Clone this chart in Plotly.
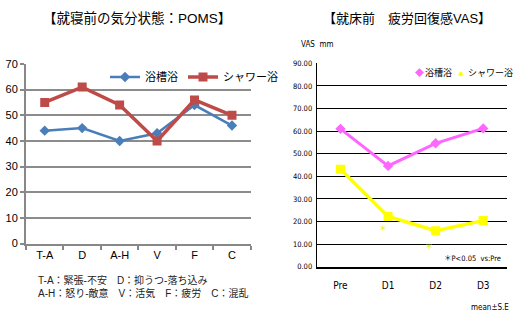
import plotly.graph_objects as go

# ---- Left chart data (POMS) ----
poms_cats = ["T-A", "D", "A-H", "V", "F", "C"]
poms_bath = [44, 45, 40, 43, 54, 46]
poms_shower = [55, 61, 54, 40, 56, 50]
poms_yticks = [0, 10, 20, 30, 40, 50, 60, 70]

# ---- Right chart data (VAS) ----
vas_cats = ["Pre", "D1", "D2", "D3"]
vas_bath = [61, 44.6, 54.6, 61.2]
vas_shower = [43.1, 22.2, 15.9, 20.4]
vas_yticks = [0, 10, 20, 30, 40, 50, 60, 70, 80, 90]
sig_cats = ["D1", "D2"]
sig_vals = [17, 9]
series_names = ["浴槽浴", "シャワー浴"]

JP = "Liberation Sans, Noto Sans CJK JP, sans-serif"
NARROW = "Liberation Sans Narrow, DejaVu Sans Condensed, Liberation Sans, Noto Sans CJK JP, sans-serif"

fig = go.Figure()

fig.add_trace(go.Scatter(
    x=poms_cats, y=poms_bath, name=series_names[0], mode="lines+markers",
    line=dict(color="#4a7ebb", width=2.5),
    marker=dict(symbol="diamond", size=8, color="#4a7ebb"),
    xaxis="x", yaxis="y", legend="legend"))
fig.add_trace(go.Scatter(
    x=poms_cats, y=poms_shower, name=series_names[1], mode="lines+markers",
    line=dict(color="#be4b48", width=3.5),
    marker=dict(symbol="square", size=9, color="#be4b48"),
    xaxis="x", yaxis="y", legend="legend"))

fig.add_trace(go.Scatter(
    x=vas_cats, y=vas_bath, name=series_names[0], mode="lines+markers",
    line=dict(color="#ff66ff", width=3),
    marker=dict(symbol="diamond", size=8, color="#ff66ff"),
    xaxis="x2", yaxis="y2", showlegend=False))
fig.add_trace(go.Scatter(
    x=vas_cats, y=vas_shower, name=series_names[1], mode="lines+markers",
    line=dict(color="#ffff00", width=3.5),
    marker=dict(symbol="square", size=9, color="#ffff00"),
    xaxis="x2", yaxis="y2", showlegend=False))

def pa(text, x, y, size, family=JP, color="#000", xanchor="left"):
    return dict(text=text, x=x/532, y=1-y/324, xref="paper", yref="paper", showarrow=False,
                font=dict(family=family, size=size, color=color), xanchor=xanchor, yanchor="middle")

annotations = [
    pa("【就寝前の気分状態：POMS】", 136.5, 18, 13.5, xanchor="center"),
    pa("【就床前　疲労回復感VAS】", 407, 18, 13, xanchor="center"),
    pa("T-A：緊張-不安　D：抑うつ-落ち込み", 36, 280, 10, color="#222"),
    pa("A-H：怒り-敵意　V：活気　F：疲労　C：混乱", 36, 293, 10, color="#222"),
    pa("VAS  mm", 299, 45, 8, family=NARROW),
    pa("＊P<0.05  vs:Pre", 503, 258, 7.5, family=NARROW, xanchor="right"),
    pa("mean±S.E", 511, 307, 8, family=NARROW, xanchor="right"),
    # right-chart legend
    pa("◆", 419, 73, 9, color="#ff66ff", xanchor="center"),
    pa(series_names[0], 423, 72, 9, family=NARROW),
    pa("●", 461, 73, 10, color="#ffff00", xanchor="center"),
    pa(series_names[1], 466, 72, 9, family=NARROW),
]
for c, v, sh in zip(sig_cats, sig_vals, [-5, -7]):
    annotations.append(dict(text="＊", x=c, y=v, xref="x2", yref="y2", showarrow=False, xshift=sh,
                            font=dict(family=JP, size=8, color="#eeee00")))

fig.update_layout(
    width=532, height=324, margin=dict(l=0, r=0, t=0, b=0, autoexpand=False),
    paper_bgcolor="white", plot_bgcolor="white",
    font=dict(family=JP, color="#000"),
    annotations=annotations,
    xaxis=dict(domain=[26/532, 250.7/532], type="category", range=[-0.5, 5.5], automargin=False,
               showline=True, linecolor="#888", linewidth=2, showgrid=False,
               ticks="outside", tickson="boundaries", ticklen=4, tickcolor="#888", tickwidth=2,
               tickfont=dict(family=JP, size=11, color="#000"), anchor="y", fixedrange=True),
    yaxis=dict(domain=[1-243.5/324, 1-64/324], range=[0, 70], tickvals=poms_yticks, automargin=False,
               showline=True, linecolor="#888", linewidth=2, showgrid=True, gridcolor="#8c8c8c", gridwidth=2,
               ticks="outside", ticklen=4, tickcolor="#888", tickwidth=2, zeroline=False,
               tickfont=dict(family=JP, size=11, color="#000"), anchor="x", fixedrange=True),
    xaxis2=dict(domain=[316.7/532, 507/532], type="category", range=[-0.5, 3.5], automargin=False,
                showline=True, linecolor="#000", linewidth=2, showgrid=False, ticks="",
                ticklabelstandoff=8,
                tickfont=dict(family=NARROW, size=10, color="#000"), anchor="y2", fixedrange=True),
    yaxis2=dict(domain=[1-266.7/324, 1-63.3/324], range=[0, 90], tickvals=vas_yticks, automargin=False,
                tickformat=".2f", showline=True, linecolor="#000", linewidth=1, showgrid=True,
                gridcolor="#000", gridwidth=1, ticks="", zeroline=False, ticklabelstandoff=2,
                tickfont=dict(family=NARROW, size=7.5, color="#000"), anchor="x2", fixedrange=True),
    legend=dict(x=105/532, y=1-77/324, xanchor="left", yanchor="middle", orientation="h",
                font=dict(family=JP, size=11, color="#000"), bgcolor="rgba(0,0,0,0)",
                itemwidth=30),
    showlegend=True,
)

fig.write_html("out.html")
